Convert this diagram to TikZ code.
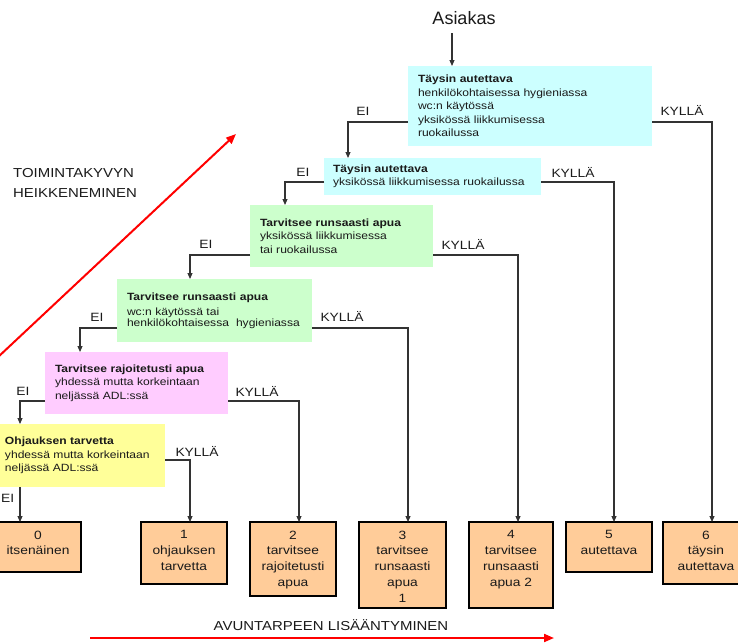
\documentclass[tikz,border=0pt]{standalone}
\usepackage{fontspec}
\setmainfont{Liberation Sans}[FakeStretch=1.15]
\newfontfamily\asiakasfont{Liberation Sans}
\usetikzlibrary{arrows.meta}
\definecolor{cyanbox}{HTML}{CCFFFF}
\definecolor{greenbox}{HTML}{CCFFCC}
\definecolor{pinkbox}{HTML}{FFCCFF}
\definecolor{yellowbox}{HTML}{FFFF99}
\definecolor{orangebox}{HTML}{FFCC99}
\definecolor{txt}{HTML}{1A1A1A}
\definecolor{linec}{HTML}{333333}
\begin{document}
\begin{tikzpicture}[x=1pt,y=-1pt,
  ubox/.style={anchor=north west, inner xsep=10pt, inner ysep=0pt, outer sep=0pt, align=left, text=txt,
    font=\fontsize{10.5}{13.5}\selectfont},
  obox/.style={anchor=north west, draw=black, line width=1.3pt, fill=orangebox, inner sep=0pt, outer sep=0pt, minimum width=86pt},
  otext/.style={anchor=north, align=center, inner sep=0pt, text=txt, font=\fontsize{12}{15.8}\selectfont},
  lbl/.style={inner sep=0pt, text=txt, font=\fontsize{12}{14}\selectfont},
  big/.style={inner sep=0pt, text=txt, font=\fontsize{13}{20}\selectfont},
  conn/.style={draw=linec, line width=1.1pt, -{Triangle[length=6pt,width=5pt]}},
  redarr/.style={draw=red, line width=2pt, -{Triangle[length=10pt,width=8pt]}}
]
\useasboundingbox (0,0) rectangle (738,643);

% top label
\node[inner sep=0pt, text=txt, font=\asiakasfont\fontsize{18}{20}\selectfont] (asiakas) at (464,18) {Asiakas};
\coordinate (a0) at (452,33);

% decision boxes
\node[ubox, fill=cyanbox, minimum height=80pt, text width=224pt] (b1) at (408,66)
  {\textbf{Täysin autettava}\\henkilökohtaisessa hygieniassa\\wc:n käytössä\\yksikössä liikkumisessa\\ruokailussa};
\node[ubox, fill=cyanbox, minimum height=37pt, inner xsep=9pt, text width=199pt] (b2) at (324,158)
  {\textbf{Täysin autettava}\\yksikössä liikkumisessa ruokailussa};
\node[ubox, fill=greenbox, minimum height=62pt, text width=163pt] (b3) at (250,205)
  {\textbf{Tarvitsee runsaasti apua}\\yksikössä liikkumisessa\\tai ruokailussa};
\node[ubox, fill=greenbox, minimum height=63pt, text width=175pt] (b4) at (117,279)
  {\textbf{Tarvitsee runsaasti apua}\\[1.5pt]wc:n käytössä tai\\[-2.5pt]henkilökohtaisessa\ \ hygieniassa};
\node[ubox, fill=pinkbox, minimum height=62pt, text width=163pt] (b5) at (45,352)
  {\textbf{Tarvitsee rajoitetusti apua}\\yhdessä mutta korkeintaan\\neljässä ADL:ssä};
\node[ubox, fill=yellowbox, minimum height=63pt, inner xsep=5pt, text width=155pt] (b6) at (0,424)
  {\textbf{Ohjauksen tarvetta}\\yhdessä mutta korkeintaan\\neljässä ADL:ssä};

% outcome boxes
\node[obox, minimum height=50pt] (o0) at (-5,522) {};
\node[obox, minimum height=62pt] (o1) at (141,522) {};
\node[obox, minimum height=74pt] (o2) at (250,522) {};
\node[obox, minimum height=86pt, minimum width=87pt] (o3) at (359,522) {};
\node[obox, minimum height=86pt, minimum width=84pt] (o4) at (469,522) {};
\node[obox, minimum height=50pt] (o5) at (566,522) {};
\node[obox, minimum height=62pt] (o6) at (663,522) {};
\node[otext] (t0) at ([yshift=-8.5pt]o0.north) {0\\itsenäinen};
\node[otext] (t1) at ([yshift=-8.5pt]o1.north) {1\\ohjauksen\\tarvetta};
\node[otext] (t2) at ([yshift=-8.5pt]o2.north) {2\\tarvitsee\\rajoitetusti\\apua};
\node[otext] (t3) at ([yshift=-8.5pt]o3.north) {3\\tarvitsee\\runsaasti\\apua\\1};
\node[otext] (t4) at ([yshift=-8.5pt]o4.north) {4\\tarvitsee\\runsaasti\\apua 2};
\node[otext] (t5) at ([yshift=-8.5pt]o5.north) {5\\autettava};
\node[otext] (t6) at ([yshift=-8.5pt]o6.north) {6\\täysin\\autettava};

% connectors
\draw[conn] (a0) -- (452,0 |- b1.north);
\draw[conn] (b1.west |- 0,122) -| (348,0 |- b2.north);
\draw[conn] (b1.east |- 0,122) -| (712,0 |- o6.north);
\draw[conn] (b2.west |- 0,182) -| (285,0 |- b3.north);
\draw[conn] (b2.east |- 0,182) -| (614,0 |- o5.north);
\draw[conn] (b3.west |- 0,255) -| (190,0 |- b4.north);
\draw[conn] (b3.east |- 0,255) -| (518,0 |- o4.north);
\draw[conn] (b4.west |- 0,328) -| (80,0 |- b5.north);
\draw[conn] (b4.east |- 0,328) -| (408,0 |- o3.north);
\draw[conn] (b5.west |- 0,401) -| (20,0 |- b6.north);
\draw[conn] (b5.east |- 0,401) -| (299,0 |- o2.north);
\draw[conn] (b6.east |- 0,460) -| (190,0 |- o1.north);
\draw[conn] (20,0 |- b6.south) -- (20,0 |- o0.north);

% branch labels
\node[lbl] (ei1) at (363,111) {EI};
\node[lbl] (ky1) at (682,110) {KYLLÄ};
\node[lbl] (ei2) at (303,172) {EI};
\node[lbl] (ky2) at (573,172) {KYLLÄ};
\node[lbl] (ei3) at (206,244) {EI};
\node[lbl] (ky3) at (463,244) {KYLLÄ};
\node[lbl] (ei4) at (97,317) {EI};
\node[lbl] (ky4) at (342,316) {KYLLÄ};
\node[lbl] (ei5) at (23,391) {EI};
\node[lbl] (ky5) at (257,391) {KYLLÄ};
\node[lbl] (ky6) at (197,451) {KYLLÄ};
\node[lbl, anchor=west] (ei6) at (1,498) {EI};

% trend arrows and captions
\coordinate (d0) at (-3,358);
\coordinate (d1) at (236,134);
\draw[redarr] (d0) -- (d1);
\node[big, anchor=west, align=left] (toim) at (13,183) {TOIMINTAKYVYN\\HEIKKENEMINEN};
\coordinate (h0) at (90,638);
\coordinate (h1) at (554,638);
\draw[redarr] (h0) -- (h1);
\node[big] (avun) at (331,625) {AVUNTARPEEN LISÄÄNTYMINEN};
\end{tikzpicture}
\end{document}
